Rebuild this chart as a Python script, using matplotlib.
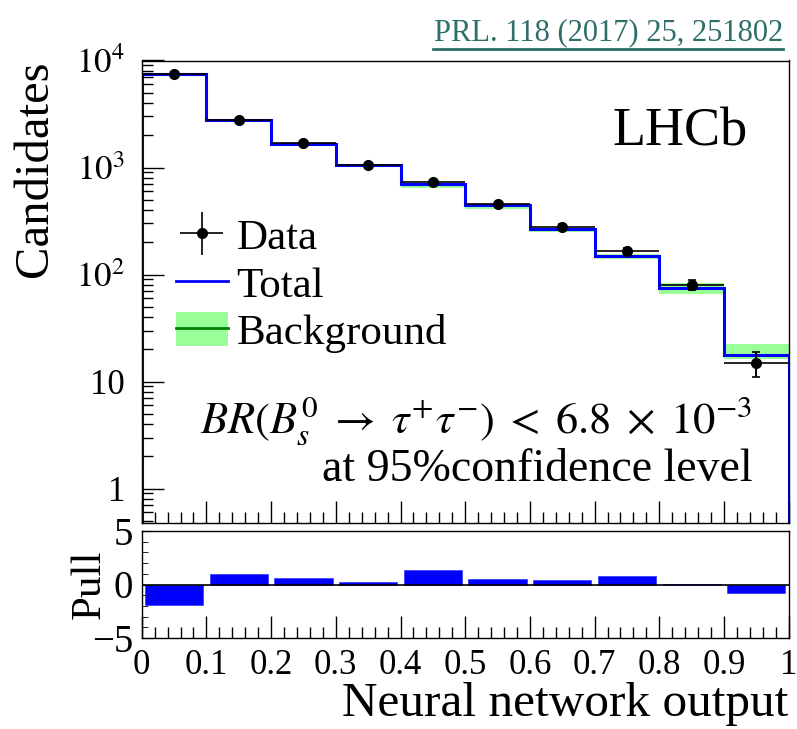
import numpy as np
import matplotlib
matplotlib.use("Agg")
import matplotlib.pyplot as plt
from matplotlib.patches import Patch
from matplotlib.lines import Line2D
from matplotlib.ticker import FixedLocator, FixedFormatter, MultipleLocator, LogLocator, NullFormatter

plt.rcParams['font.family'] = 'serif'
plt.rcParams['font.serif'] = ['Liberation Serif', 'DejaVu Serif']
plt.rcParams['mathtext.fontset'] = 'stix'

# Datos
bordes = [0.0, 0.1, 0.2, 0.3, 0.4, 0.5, 0.6, 0.7, 0.8, 0.9, 1.0]
etiquetas_x = ['0', '0.1', '0.2', '0.3', '0.4', '0.5', '0.6', '0.7', '0.8', '0.9', '1']
datos = [7450, 2800, 1690, 1066, 730, 455, 280, 165, 80, 15]
datos_err = [86, 53, 41, 33, 27, 21, 17, 13, 9, 3.9]
total = [7500, 2790, 1655, 1060, 705, 448, 267, 150, 75, 17.7]
fondo_bajo = [7350, 2720, 1590, 1020, 650, 410, 250, 140, 66, 16.2]
fondo_alto = [7650, 2850, 1690, 1080, 712, 452, 272, 155, 84, 22.5]
pull = [-1.9, 1.0, 0.57, 0.22, 1.33, 0.5, 0.45, 0.76, 0.02, -0.79]

centros = [(bordes[i] + bordes[i + 1]) / 2 for i in range(len(datos))]
anchos = [(bordes[i + 1] - bordes[i]) / 2 for i in range(len(datos))]

fig = plt.figure(figsize=(7.97, 7.29), dpi=100)
W, H = 797.0, 729.0
ax = fig.add_axes([141.7 / W, 1 - 522.7 / H, (788.7 - 141.7) / W, (522.7 - 60.5) / H])
axp = fig.add_axes([141.7 / W, 1 - 638 / H, (788.7 - 141.7) / W, (638 - 531) / H])

# Panel principal
ax.stairs(fondo_alto, bordes, baseline=fondo_bajo, fill=True, color='#99ff99', lw=0)
ax.stairs(total, bordes, baseline=1e-3, color='#0000ff', lw=2.2)
cont = ax.errorbar(centros, datos, xerr=anchos, yerr=datos_err, fmt='o', color='black',
                   ms=7, elinewidth=1.2, capsize=0)
ax.errorbar(centros, datos, yerr=datos_err, fmt='none', ecolor='black',
            elinewidth=1.2, capsize=3, capthick=1.2)

ax.set_yscale('log')
ax.set_xlim(0, 1)
ax.set_ylim(0.48, 1.0e4)
ax.yaxis.set_major_locator(FixedLocator([1, 10, 100, 1000, 10000]))
ax.yaxis.set_major_formatter(FixedFormatter(['1', '10', r'$10^2$', r'$10^3$', r'$10^4$']))
ax.yaxis.set_minor_locator(LogLocator(base=10, subs=np.arange(2, 10)))
ax.yaxis.set_minor_formatter(NullFormatter())
ax.xaxis.set_major_locator(FixedLocator(bordes))
ax.xaxis.set_minor_locator(MultipleLocator(0.02))
ax.tick_params(which='both', direction='in', top=False, right=False, labelbottom=False)
ax.tick_params(which='major', length=16, width=1)
ax.tick_params(which='minor', length=8, width=1)
ax.tick_params(axis='y', labelsize=25, pad=12)
ax.set_ylabel('Candidates', fontsize=35, loc='top', labelpad=14)

h_total = Line2D([], [], color='#0000ff', lw=2)
h_fondo = (Patch(facecolor='#99ff99', edgecolor='none'), Line2D([], [], color='#008000', lw=2))
ax.legend([cont, h_total, h_fondo], ['Data', 'Total', 'Background'],
          loc='upper left', bbox_to_anchor=(176 / W, 1 - 217 / H), bbox_transform=fig.transFigure,
          frameon=False, fontsize=31, handlelength=1.2, handleheight=0.85, handletextpad=0.2,
          labelspacing=0.15, borderaxespad=0, borderpad=0)

fig.text(748 / W, 1 - 132 / H, 'LHCb', fontsize=39, ha='right', va='center')
fig.text(752 / W, 1 - 421 / H,
         r'$BR(B_s^0 \;\rightarrow\; \tau^{+}\tau^{-}) \;<\; 6.8 \;\times\; 10^{-3}$',
         fontsize=32, ha='right', va='center')
fig.text(752 / W, 1 - 470 / H, 'at 95%confidence level', fontsize=33, ha='right', va='center')

# Panel del pull
axp.bar(centros, pull, width=0.09, color='#0000ff', edgecolor='#3333ff', lw=0.5)
axp.axhline(0, color='black', lw=1.2)
axp.set_xlim(0, 1)
axp.set_ylim(-5, 5)
axp.yaxis.set_major_locator(FixedLocator([-5, 0, 5]))
axp.yaxis.set_minor_locator(MultipleLocator(1))
axp.xaxis.set_major_locator(FixedLocator(bordes))
axp.xaxis.set_major_formatter(FixedFormatter(etiquetas_x))
axp.xaxis.set_minor_locator(MultipleLocator(0.02))
axp.tick_params(which='both', direction='in', top=False, right=False)
axp.tick_params(axis='x', which='major', length=16, width=1, labelsize=25, pad=8)
axp.tick_params(axis='x', which='minor', length=8, width=1)
axp.tick_params(axis='y', which='major', length=8, labelsize=28, pad=6)
axp.tick_params(axis='y', which='minor', length=4)
axp.set_ylabel('Pull', fontsize=31)
axp.yaxis.set_label_coords((109 - 141.7) / 647.0, 0.5)
axp.set_xlabel('Neural network output', fontsize=35.5, loc='right', labelpad=0)

for a in (ax, axp):
    for s in a.spines.values():
        s.set_linewidth(1)

# Referencia arriba a la derecha
fig.text(783 / W, 1 - 33 / H, 'PRL. 118 (2017) 25, 251802', fontsize=22, color='#2e6f69',
         ha='right', va='center')
fig.add_artist(Line2D([433 / W, 783 / W], [1 - 49 / H, 1 - 49 / H], color='#2e6f69', lw=2,
                      transform=fig.transFigure))

fig.savefig('out.png', dpi=100)
